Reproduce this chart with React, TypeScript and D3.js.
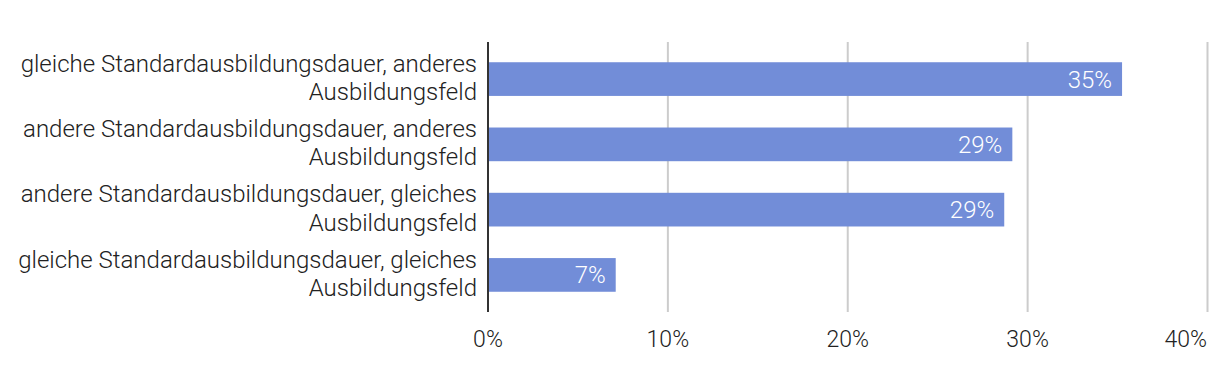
import React from "react";
import * as d3 from "d3";

const categories: string[][] = [
  ["gleiche Standardausbildungsdauer, anderes", "Ausbildungsfeld"],
  ["andere Standardausbildungsdauer, anderes", "Ausbildungsfeld"],
  ["andere Standardausbildungsdauer, gleiches", "Ausbildungsfeld"],
  ["gleiche Standardausbildungsdauer, gleiches", "Ausbildungsfeld"],
];
const values: number[] = [35.25, 29.15, 28.7, 7.1];
const valueLabels: string[] = ["35%", "29%", "29%", "7%"];
const ticks: number[] = [0, 10, 20, 30, 40];

const W = 1220;
const H = 380;
const FONT = "'Roboto Light', Roboto, sans-serif";

export default function App() {
  const x = d3.scaleLinear().domain([0, 40]).range([488, 1207.5]);
  const ids = categories.map((_, i) => String(i));
  const y = d3
    .scaleBand<string>()
    .domain(ids)
    .range([42, 312])
    .paddingInner(0.484)
    .paddingOuter(0.31);
  const bw = y.bandwidth();
  return (
    <svg
      width={W}
      height={H}
      style={{ position: "absolute", left: 0, top: 0, background: "#fff" }}
      fontFamily={FONT}
    >
      {ticks.map((t, i) => (
        <g key={t}>
          {t > 0 && (
            <line
              x1={x(t)}
              x2={x(t)}
              y1={42}
              y2={312}
              stroke="#cccccc"
              strokeWidth={2}
            />
          )}
          <text
            x={i === ticks.length - 1 ? 1207 : x(t)}
            y={347}
            textAnchor={i === ticks.length - 1 ? "end" : "middle"}
            fontSize={23}
            fontWeight={300}
            fill="#222"
          >
            {t}%
          </text>
        </g>
      ))}
      {values.map((v, i) => {
        const y0 = y(ids[i])!;
        const cy = y0 + bw / 2;
        return (
          <g key={i}>
            <rect
              x={x(0)}
              y={y0}
              width={x(v) - x(0)}
              height={bw}
              fill="#728dd8"
            />
            <text
              x={x(v) - 10}
              y={cy + 8.5}
              textAnchor="end"
              fontSize={24}
              fontWeight={300}
              fill="#ffffff"
            >
              {valueLabels[i]}
            </text>
            {categories[i].map((line, j) => (
              <text
                key={j}
                x={477}
                y={cy - 7.3 + j * 28.3}
                textAnchor="end"
                fontSize={24}
                fontWeight={300}
                fill="#222"
              >
                {line}
              </text>
            ))}
          </g>
        );
      })}
      <line x1={488} x2={488} y1={42} y2={312} stroke="#333" strokeWidth={2} />
    </svg>
  );
}
